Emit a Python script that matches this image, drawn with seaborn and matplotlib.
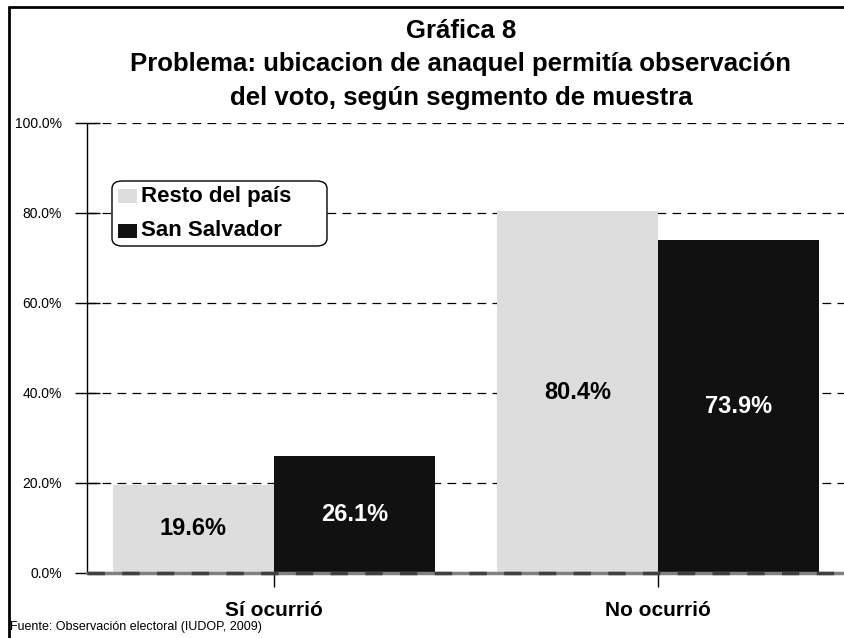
import pandas as pd
import matplotlib.pyplot as plt
import seaborn as sns
from matplotlib.patches import FancyBboxPatch
from matplotlib.lines import Line2D

categorias = ['Sí ocurrió', 'No ocurrió']
segmentos = ['Resto del país', 'San Salvador']
resto = [19.6, 80.4]
san_salvador = [26.1, 73.9]
yticks = [0, 20, 40, 60, 80, 100]
titulo = ['Gráfica 8',
          'Problema: ubicacion de anaquel permitía observación',
          'del voto, según segmento de muestra']

df = pd.DataFrame({
    'categoria': categorias * 2,
    'segmento': [segmentos[0]] * 2 + [segmentos[1]] * 2,
    'valor': resto + san_salvador,
})

sns.set_style('white')
plt.rcParams['font.family'] = ['Liberation Sans', 'DejaVu Sans']
plt.rcParams['text.color'] = 'black'
plt.rcParams['xtick.labelcolor'] = 'black'
plt.rcParams['ytick.labelcolor'] = 'black'

fig = plt.figure(figsize=(8.44, 6.38), dpi=100)
ax = fig.add_axes([87 / 844, 1 - 573 / 638, 1 - 87 / 844, (573 - 123) / 638])

colores = {'Resto del país': '#dddddd', 'San Salvador': '#111111'}
sns.barplot(data=df, x='categoria', y='valor', hue='segmento', order=categorias,
            hue_order=segmentos, palette=colores, width=0.84, saturation=1,
            edgecolor='none', linewidth=0, ax=ax, legend=False, zorder=3)

ax.set_xlim(-0.487, 1.484)
ax.set_ylim(0, 100)
ax.set_yticks(yticks)
ax.set_yticklabels([f'{v:.1f}%' for v in yticks], fontsize=10)
ax.set_xlabel('')
ax.set_ylabel('')
ax.tick_params(axis='y', direction='inout', length=18, width=1, color='black', labelcolor='black', pad=9, left=True)
ax.tick_params(axis='x', direction='out', length=10, width=1, color='black', labelcolor='black', pad=10, bottom=True)
for lbl in ax.get_xticklabels():
    lbl.set_fontweight('bold')
    lbl.set_fontsize(15)

for y in yticks[1:]:
    ax.axhline(y, color='black', lw=0.9, ls=(0, (7, 5)), zorder=1)
ax.axhline(0, color='#808080', lw=2.5, ls='-', zorder=4, clip_on=False)
ax.axhline(0, color='#404040', lw=2.5, ls=(0, (5, 5)), zorder=5, clip_on=False)

for s in ['top', 'right', 'bottom']:
    ax.spines[s].set_visible(False)
ax.spines['left'].set_color('black')
ax.spines['left'].set_linewidth(1)

for i, cont in enumerate(ax.containers):
    col = 'black' if i == 0 else 'white'
    ax.bar_label(cont, labels=[f'{v:.1f}%' for v in cont.datavalues], label_type='center',
                 fontsize=17, fontweight='bold', color=col)

# leyenda
caja = FancyBboxPatch((112 / 844, 1 - 246 / 638), 215 / 844, 65 / 638,
                      boxstyle='round,pad=0,rounding_size=0.012', transform=fig.transFigure,
                      facecolor='white', edgecolor='black', lw=1, zorder=10)
fig.patches.append(caja)
for j, seg in enumerate(segmentos):
    yy = 1 - (196 + j * 35) / 638
    fig.patches.append(plt.Rectangle((118 / 844, yy - 7 / 638), 19 / 844, 14 / 638,
                                     transform=fig.transFigure, facecolor=colores[seg],
                                     edgecolor='none', zorder=11))
    fig.text(141 / 844, yy, seg, fontsize=16, fontweight='bold', va='center', ha='left',
             color='black', zorder=12)

for k, linea in enumerate(titulo):
    fig.text(461 / 844, 1 - (38 + k * 33.5) / 638, linea, ha='center', va='baseline',
             fontsize=18.5, fontweight='bold', color='black')
fig.text(10 / 844, 1 - 627 / 638, 'Fuente: Observación electoral (IUDOP, 2009)',
         fontsize=9, ha='left', va='center', color='black')

# marco de la figura
fig.add_artist(Line2D([9 / 844, 9 / 844], [0, 1 - 7 / 638], transform=fig.transFigure, color='black', lw=2))
fig.add_artist(Line2D([9 / 844, 1], [1 - 7 / 638, 1 - 7 / 638], transform=fig.transFigure, color='black', lw=2))

fig.savefig('out.png', dpi=100)
